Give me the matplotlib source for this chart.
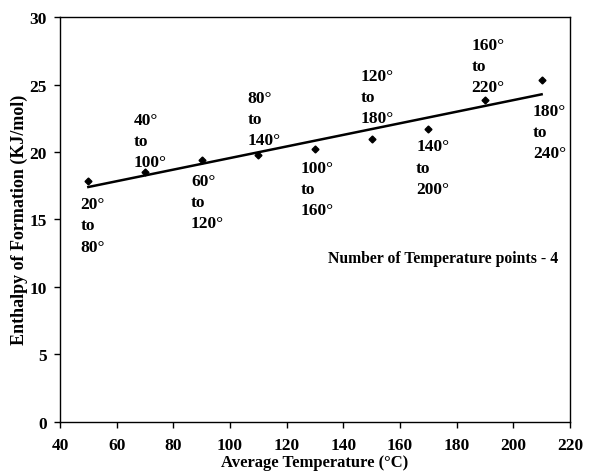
import matplotlib
matplotlib.use('Agg')
import matplotlib.pyplot as plt
import numpy as np

plt.rcParams['font.family'] = ['Liberation Serif', 'DejaVu Serif']
plt.rcParams['font.weight'] = 'bold'

# average temperature of each window and its enthalpy of formation
avg_temp = [50, 70, 90, 110, 130, 150, 170, 190, 210]
enthalpy = [17.83, 18.55, 19.44, 19.74, 20.19, 20.93, 21.67, 23.85, 25.33]
ranges = ['20°\nto\n80°', '40°\nto\n100°', '60°\nto\n120°', '80°\nto\n140°',
          '100°\nto\n160°', '120°\nto\n180°', '140°\nto\n200°',
          '160°\nto\n220°', '180°\nto\n240°']
# where each range label sits (left, top) in data units
label_x = [47.3, 66.1, 86.2, 106.2, 125.0, 146.2, 165.7, 185.3, 206.9]
label_y = [16.7, 23.0, 18.45, 24.6, 19.44, 26.2, 21.0, 28.5, 23.65]

fig = plt.figure(figsize=(5.9, 4.77), dpi=100)
ax = fig.add_axes([0.1017, 0.114, 0.8643, 0.848])

ax.plot(avg_temp, enthalpy, 'D', color='black', markersize=3.5)

# linear trend line
slope, icpt = np.polyfit(avg_temp, enthalpy, 1)
xs = np.array([avg_temp[0], avg_temp[-1]])
ax.plot(xs, slope * xs + icpt, color='black', linewidth=1.8)

for lx, ly, txt in zip(label_x, label_y, ranges):
    ax.text(lx, ly, txt, ha='left', va='top', fontsize=12.5,
            fontweight='bold', linespacing=1.42)

ax.text(215.8, 12.16, 'Number of Temperature points - 4', ha='right',
        va='center', fontsize=11.3, fontweight='bold')

ax.set_xlim(40, 220)
ax.set_ylim(0, 30)
ax.set_xticks(np.arange(40, 221, 20))
ax.set_yticks(np.arange(0, 31, 5))
ax.tick_params(direction='out', length=4, width=1, labelsize=12.5)
ax.tick_params(axis='x', pad=7)
ax.tick_params(axis='y', pad=5.5)
for lab in ax.get_xticklabels() + ax.get_yticklabels():
    lab.set_fontweight('bold')
for s in ax.spines.values():
    s.set_linewidth(1.0)

ax.set_xlabel('Average Temperature (°C)', fontsize=12, fontweight='bold', labelpad=1)
ax.set_ylabel('Enthalpy of Formation (KJ/mol)', fontsize=13, fontweight='bold', labelpad=1)

fig.savefig('out.png', dpi=100)
